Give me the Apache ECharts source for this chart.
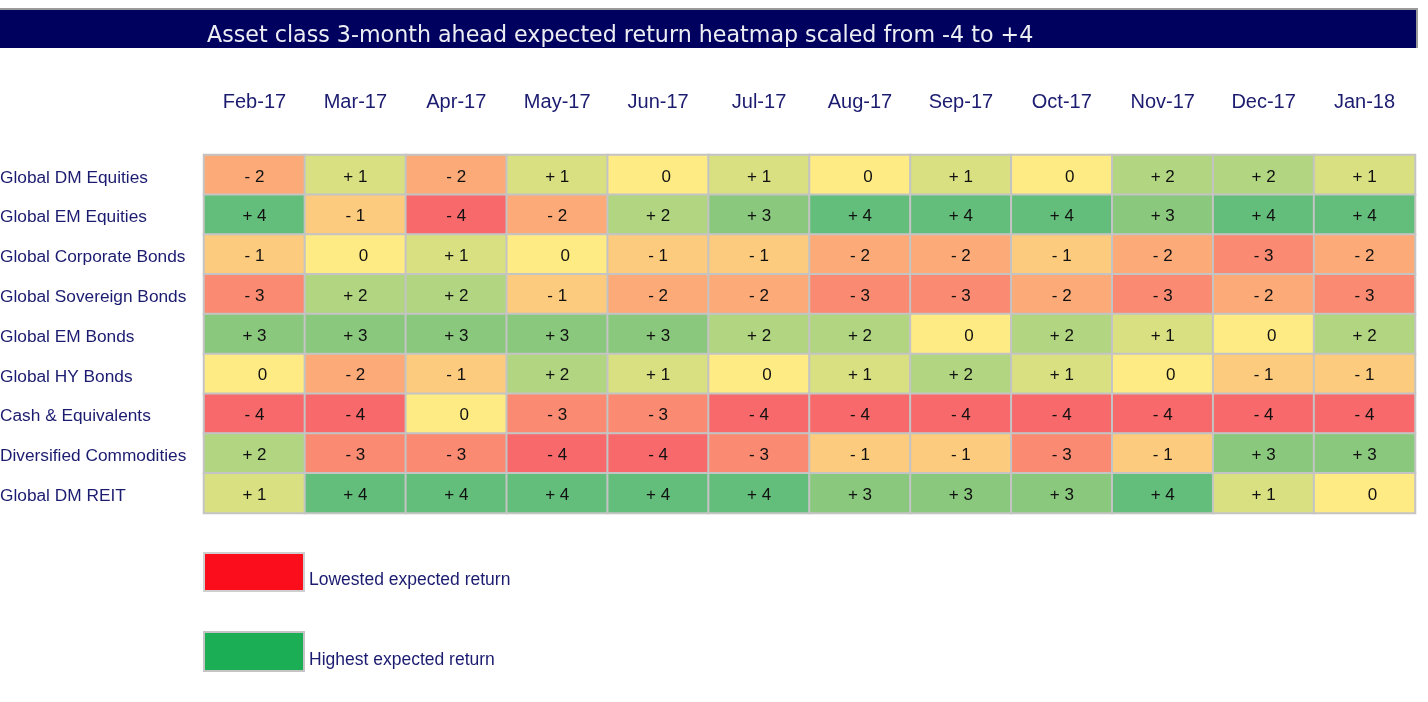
<!DOCTYPE html>
<html>
<head>
<meta charset="utf-8">
<script src="https://cdn.jsdelivr.net/npm/echarts@6/dist/echarts.min.js"></script>
<style>
html,body{margin:0;padding:0;background:#fff;}
#main{width:1428px;height:702px;}
</style>
</head>
<body>
<div id="main"></div>
<script>
var months = ['Feb-17','Mar-17','Apr-17','May-17','Jun-17','Jul-17','Aug-17','Sep-17','Oct-17','Nov-17','Dec-17','Jan-18'];
var assets = ['Global DM Equities','Global EM Equities','Global Corporate Bonds','Global Sovereign Bonds','Global EM Bonds','Global HY Bonds','Cash & Equivalents','Diversified Commodities','Global DM REIT'];

var globalDmEquities      = [-2, 1, -2, 1, 0, 1, 0, 1, 0, 2, 2, 1];
var globalEmEquities      = [4, -1, -4, -2, 2, 3, 4, 4, 4, 3, 4, 4];
var globalCorporateBonds  = [-1, 0, 1, 0, -1, -1, -2, -2, -1, -2, -3, -2];
var globalSovereignBonds  = [-3, 2, 2, -1, -2, -2, -3, -3, -2, -3, -2, -3];
var globalEmBonds         = [3, 3, 3, 3, 3, 2, 2, 0, 2, 1, 0, 2];
var globalHyBonds         = [0, -2, -1, 2, 1, 0, 1, 2, 1, 0, -1, -1];
var cashEquivalents       = [-4, -4, 0, -3, -3, -4, -4, -4, -4, -4, -4, -4];
var diversifiedCommodities= [2, -3, -3, -4, -4, -3, -1, -1, -3, -1, 3, 3];
var globalDmReit          = [1, 4, 4, 4, 4, 4, 3, 3, 3, 4, 1, 0];

var rows = [globalDmEquities, globalEmEquities, globalCorporateBonds, globalSovereignBonds,
            globalEmBonds, globalHyBonds, cashEquivalents, diversifiedCommodities, globalDmReit];

var titleText = 'Asset class 3-month ahead expected return heatmap scaled from -4 to +4';
var legendLow = 'Lowested expected return';
var legendHigh = 'Highest expected return';

var data = [];
rows.forEach(function (r, yi) {
  r.forEach(function (v, xi) { data.push([xi, yi, v]); });
});

var navy = '#1B1B70';
var font = 'Liberation Sans, Arial, sans-serif';
var chart = echarts.init(document.getElementById('main'));
chart.setOption({
  animation: false,
  backgroundColor: '#fff',
  grid: { left: 204, right: 13, top: 155, bottom: 189, outerBoundsMode: 'none', containLabel: false },
  xAxis: {
    type: 'category', data: months, position: 'top',
    axisLine: { show: false }, axisTick: { show: false }, splitLine: { show: false },
    axisLabel: { margin: 43, color: navy, fontSize: 20, fontFamily: font }
  },
  yAxis: {
    type: 'category', data: assets, inverse: true,
    axisLine: { show: false }, axisTick: { show: false }, splitLine: { show: false },
    axisLabel: {
      margin: 204, align: 'left', color: navy, fontSize: 17, fontFamily: font,
      formatter: function (v) { return '{a|' + v + '}'; },
      rich: { a: { color: navy, fontSize: 17.3, fontFamily: font, lineHeight: 20, padding: [6, 0, 0, 0] } }
    }
  },
  visualMap: {
    show: false, type: 'continuous', min: -4, max: 4, dimension: 2,
    inRange: { color: ['#F8696B', '#FFEB84', '#63BE7B'] }
  },
  series: [{
    type: 'heatmap',
    data: data,
    itemStyle: { borderColor: '#C4C4C4', borderWidth: 2 },
    label: {
      show: true,
      color: '#111',
      fontSize: 17,
      fontFamily: font,
      offset: [0, 2],
      formatter: function (p) {
        var v = p.value[2];
        if (v > 0) return '+ ' + v;
        if (v < 0) return '- ' + Math.abs(v);
        return '{z|0}';
      },
      rich: { z: { padding: [0, 0, 0, 16], fontSize: 17, color: '#111', fontFamily: font } }
    },
    emphasis: { disabled: true }
  }],
  graphic: [
    { type: 'rect', shape: { x: 0, y: 8, width: 1418, height: 40 }, style: { fill: '#9A9A9A' }, z: 1 },
    { type: 'rect', shape: { x: 0, y: 10, width: 1416, height: 38 }, style: { fill: '#00005E' }, z: 2 },
    { type: 'text', left: 207, top: 25, z: 3,
      style: { text: titleText, fill: '#EDEDF4', fontSize: 22.2, fontFamily: 'DejaVu Sans, sans-serif' } },
    { type: 'rect', shape: { x: 204, y: 553, width: 100, height: 38 },
      style: { fill: '#FC0D1B', stroke: '#CFCFCF', lineWidth: 2 } },
    { type: 'text', left: 309, top: 571,
      style: { text: legendLow, fill: navy, fontSize: 17.5, fontFamily: font } },
    { type: 'rect', shape: { x: 204, y: 632, width: 100, height: 39 },
      style: { fill: '#1BAE54', stroke: '#C4C4C4', lineWidth: 2 } },
    { type: 'text', left: 309, top: 651,
      style: { text: legendHigh, fill: navy, fontSize: 17.5, fontFamily: font } }
  ]
});
</script>
</body>
</html>
